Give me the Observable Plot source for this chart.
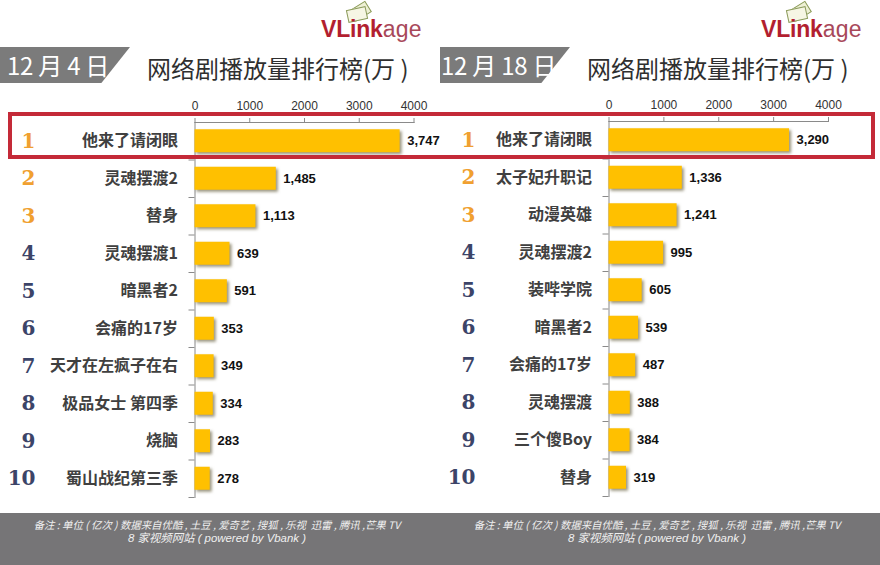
<!DOCTYPE html>
<html><head><meta charset="utf-8">
<script src="https://cdn.jsdelivr.net/npm/d3@7"></script>
<script src="https://cdn.jsdelivr.net/npm/@observablehq/plot@0.6"></script>
<style>
html,body{margin:0;padding:0;background:#fff;width:880px;height:565px;overflow:hidden;font-family:"Noto Sans CJK SC",sans-serif}
#page{position:relative;width:880px;height:565px;overflow:hidden}
.abs{position:absolute;white-space:pre}
.band{top:47px;width:130px;height:36px;background:#7b7b7b;clip-path:polygon(0 0,100% 0,78% 100%,0 100%)}
.date{top:47px;height:36px;color:#fff;font:400 24px/36px "Noto Sans CJK SC";letter-spacing:-.25px}
.title{top:50px;font:400 24px/36px "Noto Sans CJK SC";color:#2f2f2f}
.logo{top:16px;font:700 23px/26px "Liberation Sans";color:#b21f30;letter-spacing:-.2px}
.logo span{font-weight:400;color:#a8485a;letter-spacing:.3px}
.ic{width:18px;height:11px;border:1.5px solid #8a9a5a;background:#eef0d4}
.foot{top:513px;height:52px;width:880px;left:0;background:#767577}
.fn{width:440px;text-align:center;color:#f0f0f0;font-style:italic;font-family:"Noto Sans CJK SC","Liberation Sans"}
#box{left:8px;top:112px;width:859px;height:39px;border:4.5px solid #c42a38;z-index:5}
.plot{position:absolute;top:0}
</style></head><body>
<div id="page"></div>
<script>
const ticksX = [0, 1000, 2000, 3000, 4000];
const ranks = [1, 2, 3, 4, 5, 6, 7, 8, 9, 10];
const namesDec4 = ["他来了请闭眼", "灵魂摆渡2", "替身", "灵魂摆渡1", "暗黑者2", "会痛的17岁", "天才在左疯子在右", "极品女士 第四季", "烧脑", "蜀山战纪第三季"];
const valuesDec4 = [3747, 1485, 1113, 639, 591, 353, 349, 334, 283, 278];
const namesDec18 = ["他来了请闭眼", "太子妃升职记", "动漫英雄", "灵魂摆渡2", "装哔学院", "暗黑者2", "会痛的17岁", "灵魂摆渡", "三个傻Boy", "替身"];
const valuesDec18 = [3290, 1336, 1241, 995, 605, 539, 487, 388, 384, 319];
const titleText = "网络剧播放量排行榜(万 )";
const noteLine1 = "备注 : 单位 ( 亿次 ) 数据来自优酷 , 土豆 , 爱奇艺 , 搜狐 , 乐视  迅雷 , 腾讯 ,芒果 TV";
const noteLine2 = "8 家视频网站 ( powered by Vbank )";

const page = document.getElementById("page");
function div(cls, text, css) {
  const d = document.createElement("div");
  d.className = "abs " + cls;
  if (text != null) d.textContent = text;
  Object.assign(d.style, css || {});
  page.appendChild(d);
  return d;
}
function panel(names, values, left, marginLeft, marginRight, top) {
  const rows = names.map((name, i) => ({name, value: values[i], rank: ranks[i]}));
  const bandStep = 375 / names.length;
  const plot = Plot.plot({
    width: 440, height: 498, marginTop: 122, marginBottom: 1, marginLeft, marginRight,
    style: {background: "transparent", overflow: "visible", fontFamily: '"Liberation Sans","Noto Sans CJK SC",sans-serif'},
    x: {domain: [0, 4000], axis: null},
    y: {domain: names, paddingInner: 0.387, paddingOuter: 0.1935, align: 0.5, round: false, axis: null},
    marks: [
      Plot.axisX({anchor: "top", ticks: ticksX, tickFormat: d => String(d), tickSize: 5, tickPadding: 8,
        fontSize: 12, stroke: "#8a8a8a", fill: "#333", label: null}),
      Plot.frame({anchor: "top", stroke: "#8a8a8a"}),
      Plot.frame({anchor: "left", stroke: "#8a8a8a"}),
      Plot.axisY({anchor: "left", tickSize: 6, tickFormat: () => "", dy: bandStep / 2, stroke: "#8a8a8a", label: null}),
      Plot.barX(rows, {x: "value", y: "name", fill: "#ffc000", imageFilter: "drop-shadow(2px 2px 1.5px rgba(70,60,20,.55))"}),
      Plot.text(rows, {x: "value", y: "name", text: d => d3.format(",")(d.value), textAnchor: "start", dx: 7,
        fontSize: 13, fontWeight: 700, fill: "#111"}),
      Plot.text(rows, {y: "name", text: "name", frameAnchor: "left", textAnchor: "end", dx: -17,
        fontSize: 16, fontWeight: 700, fill: "#404040", fontFamily: '"Noto Sans CJK SC"'}),
      Plot.text(rows, {y: "name", text: "rank", frameAnchor: "left", textAnchor: "end", dx: 35 - marginLeft,
        fontSize: 20, fontWeight: 700, fontFamily: '"DejaVu Serif"',
        fill: d => d.rank <= 3 ? "#f0a030" : "#3c4468"})
    ]
  });
  plot.classList.add("plot");
  plot.style.left = left + "px";
  plot.style.top = top + "px";
  page.appendChild(plot);
}
function header(left, dateText, dateLeft) {
  div("band", null, {left: left + "px"});
  div("date", dateText, {left: dateLeft + "px"});
  div("title", titleText, {left: left + 147 + "px"});
  div("ic", null, {left: left + 350 + "px", top: "5px", transform: "rotate(-32deg)"});
  div("ic", null, {left: left + 347 + "px", top: "8px", transform: "rotate(-12deg)", background: "#f6f6e4"});
  const l = div("logo", "VLink", {left: left + 321 + "px"});
  const s = document.createElement("span"); s.textContent = "age"; l.appendChild(s);
}
header(0, "12 月 4 日", 7);
header(440, "12 月 18 日", 441);
panel(namesDec4, valuesDec4, 0, 194.5, 26.5, 0);
panel(namesDec18, valuesDec18, 440, 168.5, 52, -1);
div("", null, {}).id = "box";
div("foot");
[0, 440].forEach(l => {
  div("fn", noteLine1, {left: l - 3 + "px", top: "518px", font: "italic 400 10.4px/14px 'Noto Sans CJK SC','Liberation Sans'"});
  div("fn", noteLine2, {left: l - 3 + "px", top: "531px", font: "italic 400 11.4px/14px 'Liberation Sans','Noto Sans CJK SC'"});
});
</script>
</body></html>
